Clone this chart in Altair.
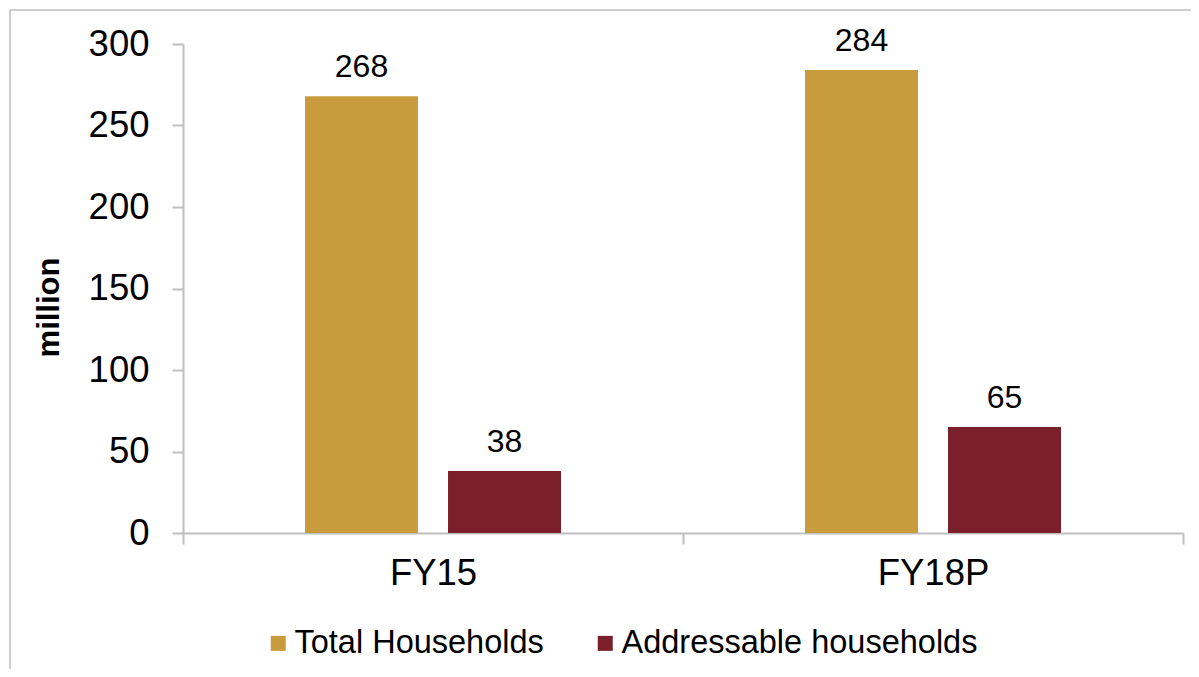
import altair as alt
import pandas as pd

categories = ["FY15", "FY18P"]
series = ["Total Households", "Addressable households"]
total_households = [268, 284]
addressable_households = [38, 65]
colors = ["#C89B3C", "#7B1F2A"]
y_ticks = [0, 50, 100, 150, 200, 250, 300]

rows = []
for i, c in enumerate(categories):
    rows.append({"category": c, "series": series[0], "value": total_households[i]})
    rows.append({"category": c, "series": series[1], "value": addressable_households[i]})
df = pd.DataFrame(rows)

FONT = "Liberation Sans"
GRAY = "#bfbfbf"

x_enc = alt.X(
    "category:N",
    sort=categories,
    scale=alt.Scale(paddingInner=0, paddingOuter=0),
    axis=alt.Axis(
        title=None,
        labelAngle=0,
        labelFont=FONT,
        labelFontSize=36.5,
        labelColor="black",
        labelPadding=11,
        tickBand="extent",
        tickSize=11,
        tickColor=GRAY,
        tickWidth=2,
        domainColor=GRAY,
        domainWidth=2,
        grid=False,
    ),
)
xoff_enc = alt.XOffset(
    "series:N",
    sort=series,
    scale=alt.Scale(paddingInner=0.21, paddingOuter=0.853),
)
y_enc = alt.Y(
    "value:Q",
    scale=alt.Scale(domain=[0, 300], nice=False, zero=True),
    axis=alt.Axis(
        values=y_ticks,
        grid=False,
        labelFont=FONT,
        labelFontSize=36.5,
        labelColor="black",
        labelPadding=23,
        tickSize=11,
        tickColor=GRAY,
        tickWidth=2,
        domainColor=GRAY,
        domainWidth=2,
        title="million",
        titleFont=FONT,
        titleFontSize=31,
        titleFontWeight="bold",
        titleColor="black",
        titleAngle=270,
        titleX=-134,
        titleY=263,
        titleAlign="center",
        titleBaseline="middle",
    ),
)

bars = alt.Chart(df).mark_bar().encode(
    x=x_enc,
    xOffset=xoff_enc,
    y=y_enc,
    color=alt.Color(
        "series:N",
        sort=series,
        scale=alt.Scale(domain=series, range=colors),
        legend=alt.Legend(
            title=None,
            orient="none",
            legendX=79,
            legendY=583,
            direction="horizontal",
            symbolType="square",
            symbolSize=225,
            symbolStrokeWidth=0,
            labelFont=FONT,
            labelFontSize=32.5,
            labelColor="black",
            labelOffset=0,
            columnPadding=45,
            padding=0,
            labelLimit=600,
        ),
    ),
)

labels = alt.Chart(df).mark_text(
    baseline="alphabetic", dy=-19, fontSize=32, font=FONT, color="black"
).encode(
    x=alt.X("category:N", sort=categories),
    xOffset=alt.XOffset("series:N", sort=series),
    y=alt.Y("value:Q"),
    text=alt.Text("value:Q"),
)

frame = alt.Chart(pd.DataFrame({"k": [0]})).mark_rect(
    fill="transparent", stroke=GRAY, strokeWidth=1.5
).encode(
    x=alt.value(-173), x2=alt.value(1100), y=alt.value(-34), y2=alt.value(700)
)

chart = alt.layer(frame, bars, labels).properties(
    width=1000,
    height=489,
    autosize=alt.AutoSizeParams(type="none"),
    padding={"left": 175, "top": 36, "right": 8, "bottom": 136},
).configure_view(stroke=None)

chart.save("out.html", embed_options={"renderer": "svg", "actions": False})
